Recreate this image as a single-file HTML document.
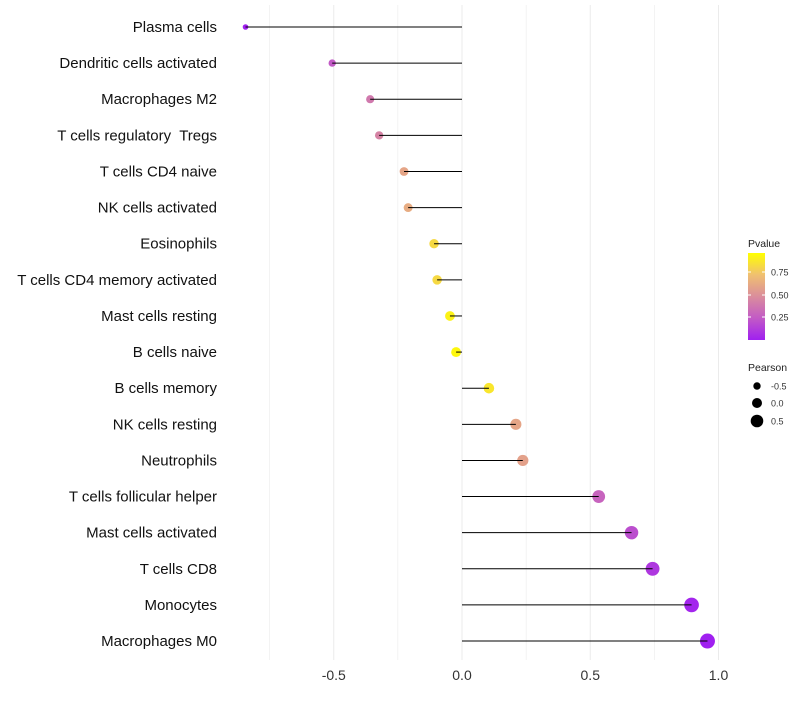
<!DOCTYPE html>
<html><head><meta charset="utf-8"><style>
body{margin:0;background:#fff;font-family:"Liberation Sans",sans-serif}
svg text{font-family:"Liberation Sans",sans-serif;white-space:pre}
</style></head><body>
<svg id="c" width="800" height="700">
<defs><linearGradient id="pg" x1="0" y1="1" x2="0" y2="0">
<stop offset="0" stop-color="#a020f0"/><stop offset="0.25" stop-color="#c25ac6"/><stop offset="0.5" stop-color="#da8d9c"/><stop offset="0.75" stop-color="#f0c070"/><stop offset="1" stop-color="#ffff00"/></linearGradient></defs>
</svg>
<script>
const cells=["Plasma cells","Dendritic cells activated","Macrophages M2","T cells regulatory  Tregs","T cells CD4 naive","NK cells activated","Eosinophils","T cells CD4 memory activated","Mast cells resting","B cells naive","B cells memory","NK cells resting","Neutrophils","T cells follicular helper","Mast cells activated","T cells CD8","Monocytes","Macrophages M0"];
const pearson=[-0.844,-0.506,-0.358,-0.323,-0.226,-0.21,-0.109,-0.097,-0.047,-0.023,0.105,0.21,0.237,0.533,0.661,0.743,0.895,0.957];
const pvalue=[0.0,0.25,0.4,0.45,0.62,0.65,0.85,0.85,0.95,0.97,0.9,0.62,0.6,0.3,0.2,0.1,0.02,0.0];
const xticks=[-0.5,0.0,0.5,1.0];
const xtickLabels=["-0.5","0.0","0.5","1.0"];
const NS="http://www.w3.org/2000/svg",svg=document.getElementById('c');
const X=v=>462+v*256.5, Y=i=>27+i*36.12;
function mk(t,a,p){const e=document.createElementNS(NS,t);for(const k in a)e.setAttribute(k,a[k]);(p||svg).appendChild(e);return e;}
function col(p){const s=[[0,[160,32,240]],[0.25,[194,90,198]],[0.5,[218,141,156]],[0.75,[240,192,112]],[1,[255,255,0]]];
for(let i=0;i<4;i++){if(p<=s[i+1][0]){const t=(p-s[i][0])/(s[i+1][0]-s[i][0]);const c=s[i][1].map((v,j)=>Math.round(v+(s[i+1][1][j]-v)*t));return`rgb(${c})`;}}return'rgb(255,255,0)';}
for(let v=-0.75;v<=1.01;v+=0.25){const g=mk('line',{x1:X(v),x2:X(v),y1:5,y2:660,stroke:'#ebebeb','stroke-width':Math.abs(v*2-Math.round(v*2))<0.01?1:0.6});

}
xticks.forEach((v,i)=>{const t=mk('text',{x:X(v),y:680,'text-anchor':'middle','font-size':14,fill:'#333'});t.textContent=xtickLabels[i];

});
cells.forEach((c,i)=>{const y=Y(i);
const t=mk('text',{x:217,y:y+5,'text-anchor':'end','font-size':15,fill:'#111'});t.textContent=c;


const d=mk('circle',{cx:X(pearson[i]),cy:y,r:5+2.6*pearson[i],fill:col(pvalue[i])});


const l=mk('line',{x1:X(0),x2:X(pearson[i]),y1:y,y2:y,stroke:'#000','stroke-width':1});

});
const lg=mk('g',{});
mk('text',{x:748,y:247,'font-size':10.5,fill:'#222'},lg).textContent='Pvalue';
mk('rect',{x:748,y:253,width:17,height:87,fill:'url(#pg)'},lg);
[[0.75,272],[0.5,295],[0.25,317]].forEach(([v,y])=>{mk('line',{x1:748,x2:751,y1:y,y2:y,stroke:'#fff'},lg);mk('line',{x1:762,x2:765,y1:y,y2:y,stroke:'#fff'},lg);mk('text',{x:771,y:y+3.5,'font-size':9,fill:'#333'},lg).textContent=v.toFixed(2);});
mk('text',{x:748,y:371,'font-size':10.5,fill:'#222'},lg).textContent='Pearson';
[[-0.5,386],[0,403],[0.5,421]].forEach(([v,y])=>{mk('circle',{cx:757,cy:y,r:5+2.6*v,fill:'#000'},lg);mk('text',{x:771,y:y+3.5,'font-size':9,fill:'#333'},lg).textContent=v.toFixed(1);});
</script>
</body></html>
